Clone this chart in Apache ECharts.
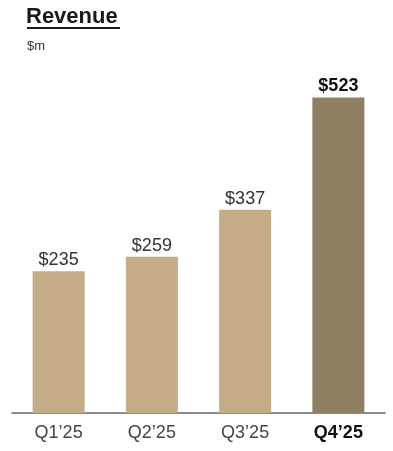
<!DOCTYPE html>
<html>
<head>
    <meta charset="utf-8">
    <title>Revenue</title>
    <script src="https://cdn.jsdelivr.net/npm/echarts@6/dist/echarts.min.js"></script>
</head>
<body style="margin:0;background:#fff">
    <div id="main" style="width: 393px;height:451px;"></div>
    <script type="text/javascript">
        // 数据
        let quarters = ['Q1\u201925', 'Q2\u201925', 'Q3\u201925', 'Q4\u201925']
        let revenue = [235, 259, 337, 523]
        let valueLabels = ['$235', '$259', '$337', '$523']

        let lightColor = '#c4ac89'
        let darkColor = '#8f7f63'
        let last = quarters.length - 1

        let myChart = echarts.init(document.getElementById('main'));

        let option = {
            animation: false,
            title: [
                {
                    text: 'Revenue',
                    left: 26,
                    top: 6,
                    padding: 0,
                    textStyle: { fontFamily: 'Liberation Sans', fontSize: 22, fontWeight: 'bold', color: '#1a1a1a' }
                },
                {
                    text: '$m',
                    left: 27,
                    top: 40,
                    padding: 0,
                    textStyle: { fontFamily: 'Liberation Sans', fontSize: 13, fontWeight: 'normal', color: '#333' }
                }
            ],
            graphic: [
                // 标题下划线
                { type: 'rect', left: 27, top: 27, shape: { width: 93, height: 2 }, style: { fill: '#1a1a1a' } }
            ],
            grid: { left: 12, right: 8, top: 51, bottom: 38 },
            xAxis: {
                type: 'category',
                data: quarters,
                axisTick: { show: false },
                axisLine: { lineStyle: { color: '#666', width: 1.5 } },
                axisLabel: {
                    interval: 0,
                    margin: 11,
                    fontFamily: 'Liberation Sans',
                    fontSize: 18,
                    color: '#444',
                    formatter: function (v, i) { return i === last ? '{b|' + v + '}' : v },
                    rich: { b: { fontFamily: 'Liberation Sans', fontSize: 18, fontWeight: 'bold', color: '#111' } }
                }
            },
            yAxis: {
                type: 'value',
                min: 0,
                max: 600,
                show: false,
                splitLine: { show: false }
            },
            series: [
                {
                    type: 'bar',
                    barWidth: 52,
                    data: revenue.map(function (v, i) {
                        return {
                            value: v,
                            itemStyle: { color: i === last ? darkColor : lightColor },
                            label: i === last ? { fontWeight: 'bold', color: '#111' } : {}
                        }
                    }),
                    label: {
                        show: true,
                        position: 'top',
                        distance: 2,
                        fontFamily: 'Liberation Sans',
                        fontSize: 18,
                        color: '#333',
                        formatter: function (p) { return valueLabels[p.dataIndex] }
                    }
                }
            ]
        };

        myChart.setOption(option);
    </script>
</body>
</html>
